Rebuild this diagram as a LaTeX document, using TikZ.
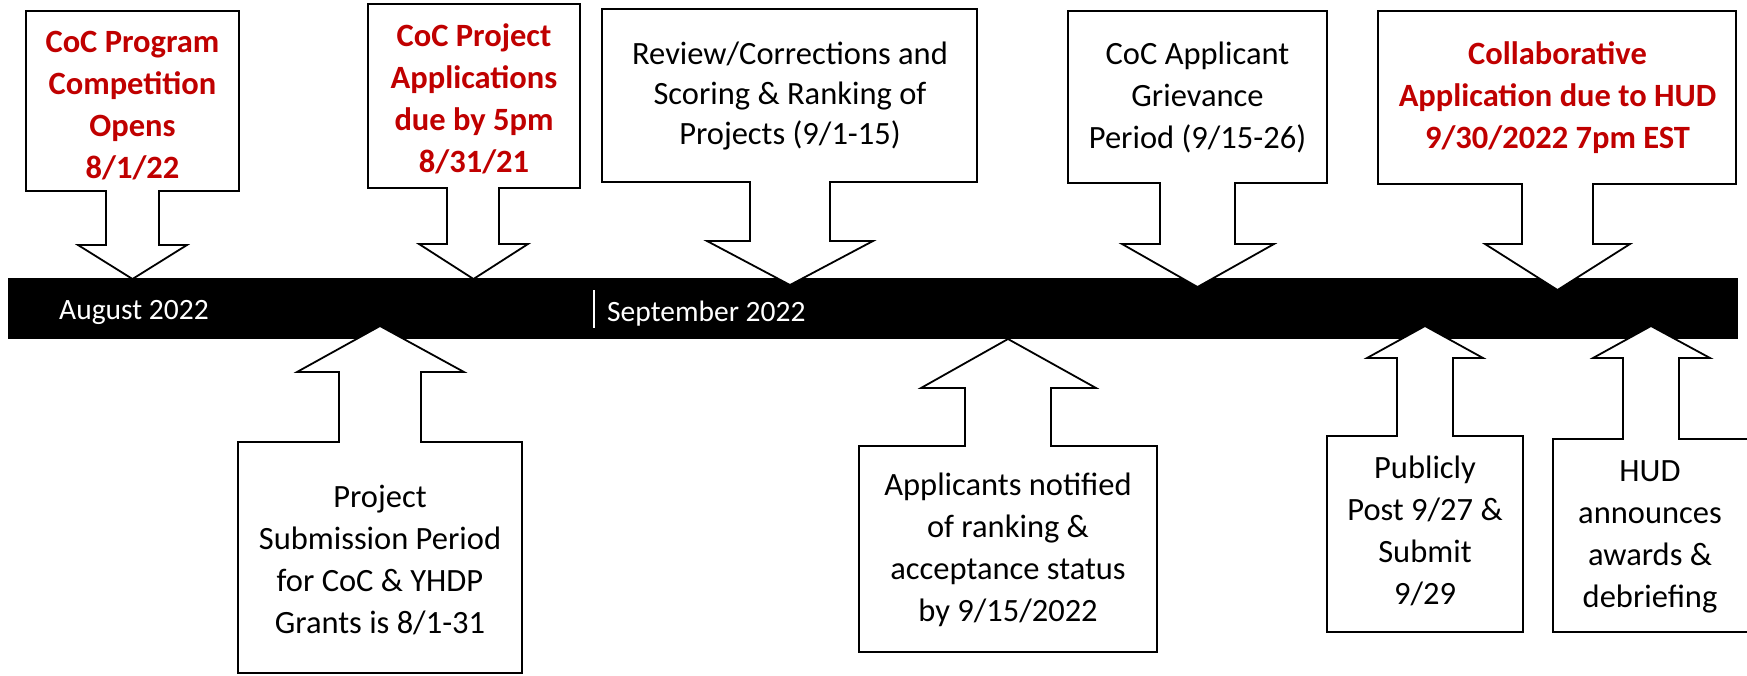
\documentclass[tikz,border=0pt]{standalone}
\usepackage{fontspec}
\setmainfont{Carlito}
\usepackage{tikz}

\definecolor{cocred}{RGB}{192,0,0}

\begin{document}
\begin{tikzpicture}[x=1pt,y=-1pt,
    calloutbox/.style={draw=black,fill=white,line width=1.8pt,line join=miter},
    note/.style={align=center,inner sep=0pt,font=\fontsize{32.5}{42}\selectfont},
    deadline/.style={note,text=cocred,font=\fontsize{32.5}{42}\selectfont\bfseries},
    month/.style={anchor=west,inner sep=0pt,text=white,font=\fontsize{29.5}{34}\selectfont}]
  \useasboundingbox (0,0) rectangle (1747,675);
  \fill[white] (0,0) rectangle (1747,675);
  % time line
  \fill[black] (8,278) rectangle (1738,339);
  \draw[white,line width=2pt] (594,290) -- (594,328);
  \node[month] (aug) at (59,312) {August 2022};
  \node[month] (sep) at (607,314) {September 2022};
  % callouts above the line
  \draw[calloutbox] (26,11) -- (239,11) -- (239,191) -- (159,191) -- (159,245) -- (187,245)
    -- (132.5,279) -- (78,245) -- (106,245) -- (106,191) -- (26,191) -- cycle;
  \node[deadline] (opens) at (132.5,106) {CoC Program\\Competition\\Opens\\8/1/22};
  \draw[calloutbox] (368,4) -- (580,4) -- (580,188) -- (499,188) -- (499,244) -- (528,244)
    -- (473.5,279) -- (419,244) -- (447,244) -- (447,188) -- (368,188) -- cycle;
  \node[deadline] (appsdue) at (474,99) {CoC Project\\Applications\\due by 5pm\\8/31/21};
  \draw[calloutbox] (602,9) -- (977,9) -- (977,182) -- (830,182) -- (830,241) -- (873,241)
    -- (790,285) -- (707,241) -- (750,241) -- (750,182) -- (602,182) -- cycle;
  \node[note,font=\fontsize{32.5}{40}\selectfont] (review) at (790,96) {Review/Corrections and\\Scoring \& Ranking of\\Projects (9/1-15)};
  \draw[calloutbox] (1068,11) -- (1327,11) -- (1327,183) -- (1235,183) -- (1235,244) -- (1274,244)
    -- (1197.5,287) -- (1122,244) -- (1160,244) -- (1160,183) -- (1068,183) -- cycle;
  \node[note] (grievance) at (1197.5,97) {CoC Applicant\\Grievance\\Period (9/15-26)};
  \draw[calloutbox] (1378,11) -- (1736,11) -- (1736,184) -- (1593,184) -- (1593,244) -- (1630,244)
    -- (1557.5,290) -- (1485,244) -- (1522,244) -- (1522,184) -- (1378,184) -- cycle;
  \node[deadline] (huddue) at (1557.5,98) {Collaborative\\Application due to HUD\\9/30/2022 7pm EST};
  % callouts below the line
  \draw[calloutbox] (238,442) -- (339,442) -- (339,372) -- (297,372) -- (380,326) -- (464,372)
    -- (421,372) -- (421,442) -- (522,442) -- (522,673) -- (238,673) -- cycle;
  \node[note] (submission) at (380,560) {Project\\Submission Period\\for CoC \& YHDP\\Grants is 8/1-31};
  \draw[calloutbox] (859,446) -- (965,446) -- (965,388) -- (921,388) -- (1008,339) -- (1096,388)
    -- (1051,388) -- (1051,446) -- (1157,446) -- (1157,652) -- (859,652) -- cycle;
  \node[note] (notified) at (1008,550) {Applicants notified\\of ranking \&\\acceptance status\\by 9/15/2022};
  \draw[calloutbox] (1327,436) -- (1397,436) -- (1397,358) -- (1367,358) -- (1425,326) -- (1483,358)
    -- (1453,358) -- (1453,436) -- (1523,436) -- (1523,632) -- (1327,632) -- cycle;
  \node[note] (publicpost) at (1425,531) {Publicly\\Post 9/27 \&\\Submit\\9/29};
  \draw[calloutbox] (1553,439) -- (1623,439) -- (1623,358) -- (1593,358) -- (1651,326) -- (1710,358)
    -- (1679,358) -- (1679,439) -- (1751,439) -- (1751,632) -- (1553,632) -- cycle;
  \node[note] (awards) at (1650,537) {HUD\\announces\\awards \&\\debriefing};
\end{tikzpicture}
\end{document}
